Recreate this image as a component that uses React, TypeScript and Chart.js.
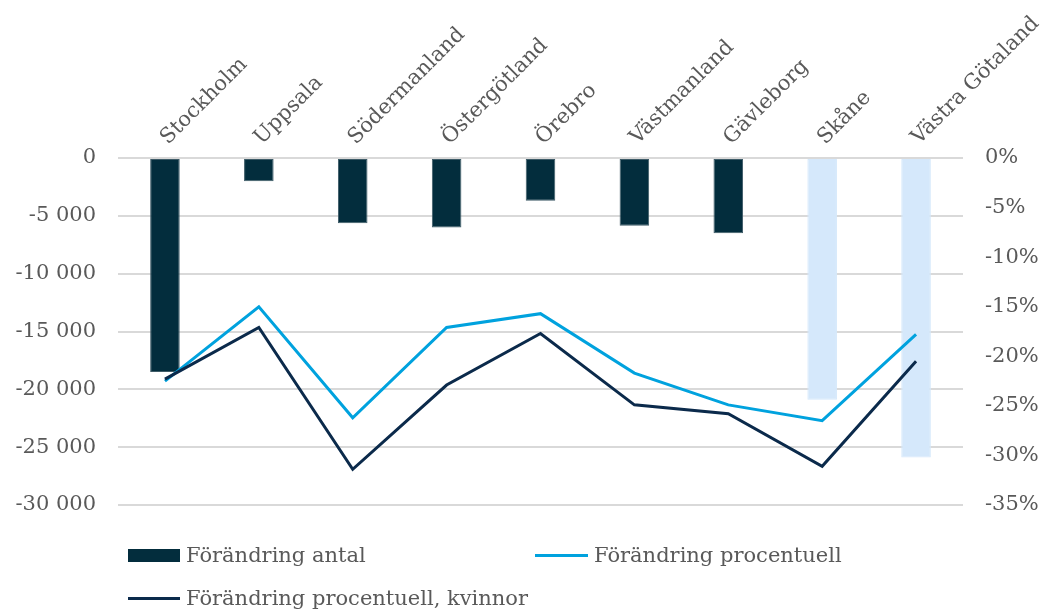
import React, { useEffect, useRef } from "react";
import { Chart, registerables } from "chart.js";

Chart.register(...registerables);

const categories = [
  "Stockholm",
  "Uppsala",
  "Södermanland",
  "Östergötland",
  "Örebro",
  "Västmanland",
  "Gävleborg",
  "Skåne",
  "Västra Götaland",
];
const highlighted = ["Skåne", "Västra Götaland"];
const forandringAntal = [-18500, -2000, -5650, -6000, -3700, -5850, -6500, -20900, -25900];
const forandringProcent = [-22.5, -15.0, -26.2, -17.1, -15.7, -21.7, -24.9, -26.5, -17.8];
const forandringKvinnor = [-22.3, -17.1, -31.4, -22.9, -17.7, -24.9, -25.8, -31.1, -20.5];
const seriesLabels = [
  "Förändring antal",
  "Förändring procentuell",
  "Förändring procentuell, kvinnor",
];

const DARK_BAR = "#032D3D";
const LIGHT_BAR = "#D5E8FB";
const LIGHT_LINE = "#00A2DE";
const DARK_LINE = "#0B2A4B";
const TEXT = "#595959";
const FONT = '"DejaVu Serif", serif';

function fmtThousands(v: number): string {
  const s = String(Math.abs(Math.round(v))).replace(/\B(?=(\d{3})+(?!\d))/g, " ");
  return (v < 0 ? "-" : "") + s;
}

export default function App() {
  const ref = useRef<HTMLCanvasElement | null>(null);

  useEffect(() => {
    if (!ref.current) return;
    const chart = new Chart(ref.current, {
      type: "bar",
      data: {
        labels: categories,
        datasets: [
          {
            type: "bar",
            label: seriesLabels[0],
            data: forandringAntal,
            backgroundColor: categories.map((c) => (highlighted.includes(c) ? LIGHT_BAR : DARK_BAR)),
            borderColor: categories.map((c) => (highlighted.includes(c) ? LIGHT_BAR : "#3E5B67")),
            borderWidth: 1,
            borderSkipped: false,
            barPercentage: 0.315,
            categoryPercentage: 1,
            yAxisID: "y",
            order: 3,
          },
          {
            type: "line",
            label: seriesLabels[1],
            data: forandringProcent,
            borderColor: LIGHT_LINE,
            backgroundColor: LIGHT_LINE,
            borderWidth: 3,
            pointRadius: 0,
            tension: 0,
            yAxisID: "y1",
            order: 2,
          },
          {
            type: "line",
            label: seriesLabels[2],
            data: forandringKvinnor,
            borderColor: DARK_LINE,
            backgroundColor: DARK_LINE,
            borderWidth: 3,
            pointRadius: 0,
            tension: 0,
            yAxisID: "y1",
            order: 1,
          },
        ],
      },
      options: {
        animation: false,
        responsive: false,
        maintainAspectRatio: false,
        layout: { padding: { top: 0, bottom: 107, left: 0, right: 0 } },
        plugins: {
          legend: { display: false },
          tooltip: { enabled: false },
        },
        scales: {
          x: {
            position: "top",
            offset: true,
            grid: { display: false, drawTicks: false },
            border: { display: false },
            ticks: {
              minRotation: 45,
              maxRotation: 45,
              autoSkip: false,
              padding: 8,
              labelOffset: 17,
              color: TEXT,
              font: { family: FONT, size: 21 },
            },
            afterFit: (axis: any) => {
              axis.height = 158;
              axis.paddingLeft = 0;
              axis.paddingRight = 0;
            },
          },
          y: {
            position: "left",
            min: -30000,
            max: 0,
            grid: { color: "#D9D9D9", lineWidth: 2, drawTicks: false },
            border: { display: false },
            ticks: {
              stepSize: 5000,
              padding: 22,
              color: TEXT,
              font: { family: FONT, size: 21 },
              callback: (v: any) => fmtThousands(Number(v)),
            },
            afterFit: (axis: any) => {
              axis.width = 118;
            },
          },
          y1: {
            position: "right",
            min: -35,
            max: 0,
            grid: { display: false, drawTicks: false },
            border: { display: false },
            ticks: {
              stepSize: 5,
              padding: 22,
              color: TEXT,
              font: { family: FONT, size: 21 },
              callback: (v: any) => `${Number(v)}%`,
            },
            afterFit: (axis: any) => {
              axis.width = 84;
            },
          },
        },
      },
    });
    return () => chart.destroy();
  }, []);

  const legendText: React.CSSProperties = {
    position: "absolute",
    fontFamily: FONT,
    fontSize: 21,
    color: TEXT,
    lineHeight: "24px",
    whiteSpace: "nowrap",
  };

  return (
    <div style={{ position: "absolute", left: 0, top: 0, width: 1047, height: 612, background: "#fff" }}>
      <canvas ref={ref} width={1047} height={612} style={{ position: "absolute", left: 0, top: 0, width: 1047, height: 612 }} />
      <div style={{ position: "absolute", left: 128, top: 549, width: 52, height: 13, background: DARK_BAR }} />
      <div style={{ ...legendText, left: 186, top: 543 }}>{seriesLabels[0]}</div>
      <div style={{ position: "absolute", left: 535, top: 554, width: 53, height: 3, background: LIGHT_LINE }} />
      <div style={{ ...legendText, left: 594, top: 543 }}>{seriesLabels[1]}</div>
      <div style={{ position: "absolute", left: 128, top: 597, width: 52, height: 3, background: DARK_LINE }} />
      <div style={{ ...legendText, left: 186, top: 586 }}>{seriesLabels[2]}</div>
    </div>
  );
}
